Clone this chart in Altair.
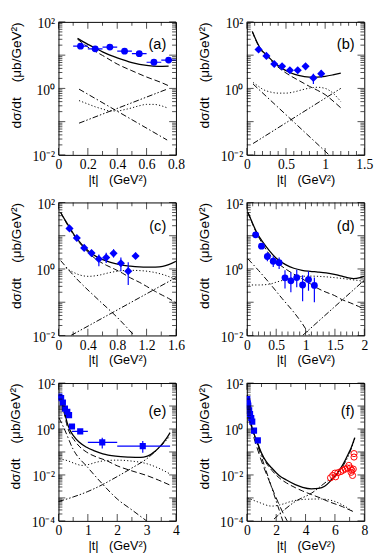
import altair as alt
import pandas as pd

BLUE = "#0000ff"
RED = "#ff0000"

# ---------------- panel (a) ----------------
a_x = [0.15, 0.25, 0.35, 0.45, 0.55, 0.65, 0.75]
a_y = [18.6, 15.5, 17.5, 13.2, 11.1, 6.1, 7.1]
a_ylo = [16.8, 14.0, 15.8, 12.0, 10.0, 5.5, 6.4]
a_yhi = [20.5, 17.0, 19.3, 14.5, 12.2, 6.7, 7.8]
a_xlo = [0.10, 0.20, 0.30, 0.40, 0.50, 0.60, 0.70]
a_xhi = [0.20, 0.30, 0.40, 0.50, 0.60, 0.70, 0.80]
a_solid_x = [0.13, 0.17, 0.2, 0.25, 0.3, 0.35, 0.4, 0.5, 0.6, 0.68, 0.75]
a_solid_y = [32, 25, 21, 16.5, 12.5, 10, 8.3, 6.0, 4.9, 4.6, 4.7]
a_dash_x = [0.13, 0.17, 0.2, 0.25, 0.3, 0.4, 0.5, 0.6, 0.7, 0.75]
a_dash_y = [30, 22, 17.5, 13, 9.8, 5.4, 3.4, 2.2, 1.5, 1.2]
a_dot_x = [0.14, 0.2, 0.25, 0.3, 0.35, 0.4, 0.45, 0.5, 0.55, 0.6, 0.65, 0.7, 0.74]
a_dot_y = [0.43, 0.34, 0.28, 0.24, 0.21, 0.21, 0.23, 0.26, 0.3, 0.33, 0.33, 0.3, 0.26]
a_dd_x = [0.14, 0.74]
a_dd_y = [0.95, 0.028]
a_ddd_x = [0.14, 0.74]
a_ddd_y = [0.09, 0.95]

# ---------------- panel (b) ----------------
b_x = [0.15, 0.25, 0.35, 0.45, 0.55, 0.65, 0.75, 0.85, 0.95]
b_y = [14.8, 9.5, 5.4, 4.6, 3.5, 3.5, 4.6, 2.07, 2.77]
b_ylo = [13.0, 8.3, 4.7, 4.0, 3.0, 3.0, 3.9, 1.35, 2.2]
b_yhi = [16.8, 10.8, 6.2, 5.3, 4.0, 4.0, 5.4, 2.77, 3.5]
b_solid_x = [0.07, 0.1, 0.14, 0.18, 0.25, 0.35, 0.45, 0.55, 0.66, 0.8, 0.9, 1.0, 1.1, 1.2]
b_solid_y = [51, 35, 22, 15, 10.2, 6.0, 4.0, 3.0, 2.45, 2.2, 2.2, 2.3, 2.55, 2.9]
b_dash_x = [0.07, 0.1, 0.14, 0.18, 0.25, 0.35, 0.45, 0.55, 0.66, 0.8, 0.9, 1.0, 1.1, 1.2]
b_dash_y = [51, 34, 21, 14.5, 9.6, 5.5, 3.5, 2.45, 1.75, 1.15, 0.88, 0.65, 0.42, 0.26]
b_dot_x = [0.08, 0.15, 0.2, 0.3, 0.4, 0.5, 0.6, 0.7, 0.8, 0.9, 1.0, 1.1, 1.2]
b_dot_y = [1.5, 1.15, 0.95, 0.78, 0.72, 0.72, 0.78, 0.9, 1.02, 1.08, 1.0, 0.72, 0.4]
b_dd_x = [0.08, 1.05]
b_dd_y = [1.35, 0.01]
b_ddd_x = [0.08, 1.2]
b_ddd_y = [0.022, 1.0]

# ---------------- panel (c) ----------------
c_x = [0.15, 0.25, 0.35, 0.45, 0.55, 0.65, 0.75, 0.85, 0.95, 1.05]
c_y = [16.6, 8.5, 4.3, 3.0, 2.0, 2.2, 2.95, 1.48, 0.86, 2.45]
c_ylo = [14.5, 7.4, 3.7, 2.4, 1.2, 1.5, 2.2, 0.85, 0.33, 2.0]
c_yhi = [19.0, 9.8, 5.0, 3.8, 2.7, 3.1, 3.9, 2.2, 1.58, 3.1]
c_solid_x = [0.03, 0.08, 0.145, 0.22, 0.32, 0.42, 0.54, 0.65, 0.76, 0.87, 0.98, 1.1, 1.2, 1.32, 1.42, 1.5, 1.6]
c_solid_y = [50, 32, 18.7, 10, 5.4, 3.3, 2.2, 1.75, 1.48, 1.3, 1.21, 1.15, 1.13, 1.14, 1.2, 1.35, 1.7]
c_dash_x = [0.03, 0.08, 0.145, 0.22, 0.32, 0.42, 0.54, 0.65, 0.76, 0.87, 0.98, 1.1, 1.2, 1.32, 1.42, 1.5, 1.6]
c_dash_y = [50, 31, 17.5, 9.5, 5.0, 2.9, 1.78, 1.3, 1.0, 0.75, 0.54, 0.4, 0.3, 0.21, 0.16, 0.13, 0.095]
c_dot_x = [0.1, 0.2, 0.3, 0.41, 0.55, 0.7, 0.85, 0.98, 1.15, 1.29, 1.45, 1.6]
c_dot_y = [1.08, 0.8, 0.65, 0.6, 0.65, 0.78, 0.88, 0.91, 0.88, 0.8, 0.65, 0.48]
c_dd_x = [0.03, 0.25, 0.54, 0.8, 1.03]
c_dd_y = [1.78, 0.5, 0.12, 0.035, 0.01]
c_ddd_x = [0.17, 1.6]
c_ddd_y = [0.01, 0.55]

# ---------------- panel (d) ----------------
d_x = [0.15, 0.25, 0.35, 0.45, 0.55, 0.65, 0.75, 0.85, 0.95, 1.05, 1.15]
d_y = [10.6, 4.85, 2.37, 1.7, 1.55, 0.54, 0.44, 0.55, 0.33, 0.48, 0.32]
d_ylo = [9.2, 4.1, 1.7, 1.15, 1.0, 0.26, 0.2, 0.28, 0.107, 0.22, 0.1]
d_yhi = [12.2, 5.7, 3.2, 2.4, 2.2, 0.91, 0.8, 0.95, 0.65, 0.85, 0.55]
d_solid_x = [0.02, 0.08, 0.165, 0.27, 0.386, 0.5, 0.66, 0.8, 0.94, 1.08, 1.21, 1.35, 1.49, 1.6, 1.71, 1.82, 1.93, 2.0]
d_solid_y = [50, 28, 13, 6.5, 3.5, 2.1, 1.35, 1.05, 0.91, 0.85, 0.81, 0.76, 0.69, 0.62, 0.55, 0.51, 0.55, 0.6]
d_dash_x = [0.02, 0.08, 0.165, 0.27, 0.386, 0.5, 0.66, 0.8, 0.94, 1.08, 1.21, 1.35, 1.49, 1.62, 1.76, 1.9, 2.0]
d_dash_y = [50, 27, 12, 5.6, 2.75, 1.65, 1.0, 0.7, 0.51, 0.36, 0.26, 0.2, 0.16, 0.12, 0.096, 0.075, 0.062]
d_dot_x = [0.03, 0.2, 0.39, 0.5, 0.66, 0.8, 0.94, 1.1, 1.21, 1.35, 1.49, 1.62, 1.76, 1.9, 2.0]
d_dot_y = [0.33, 0.33, 0.35, 0.4, 0.48, 0.55, 0.6, 0.61, 0.6, 0.58, 0.55, 0.52, 0.48, 0.45, 0.42]
d_dd_x = [0.02, 0.2, 0.4, 0.6, 0.8, 0.95, 1.07]
d_dd_y = [2.0, 0.9, 0.35, 0.13, 0.05, 0.022, 0.01]
d_ddd_x = [0.95, 2.0]
d_ddd_y = [0.01, 0.46]

# ---------------- panel (e) ----------------
e_x = [0.03, 0.09, 0.15, 0.22, 0.3, 0.36, 0.46, 0.74, 1.49, 2.87]
e_y = [26, 22, 14, 7.7, 5.6, 4.0, 1.28, 0.79, 0.26, 0.18]
e_xlo = [0.0, 0.06, 0.12, 0.19, 0.27, 0.33, 0.4, 0.46, 1.0, 2.0]
e_xhi = [0.06, 0.12, 0.18, 0.25, 0.33, 0.39, 0.52, 1.0, 2.0, 3.8]
e_ylo = [23, 19.5, 12.4, 6.8, 4.9, 3.5, 1.1, 0.68, 0.14, 0.092]
e_yhi = [29, 25, 15.8, 8.7, 6.3, 4.5, 1.48, 0.92, 0.42, 0.3]
e_solid_x = [0.03, 0.077, 0.15, 0.22, 0.3, 0.4, 0.52, 0.7, 0.96, 1.2, 1.51, 1.95, 2.4, 2.8, 3.0, 3.15, 3.3, 3.45, 3.6, 3.7, 3.8]
e_solid_y = [30, 24, 10, 4.5, 1.8, 0.85, 0.49, 0.27, 0.16, 0.115, 0.083, 0.066, 0.06, 0.058, 0.064, 0.08, 0.11, 0.17, 0.29, 0.43, 0.69]
e_dash_x = [0.03, 0.077, 0.15, 0.22, 0.3, 0.4, 0.52, 0.7, 0.96, 1.3, 1.62, 2.0, 2.5, 3.0, 3.4, 3.8]
e_dash_y = [30, 22, 8.5, 3.5, 1.28, 0.6, 0.35, 0.18, 0.098, 0.06, 0.043, 0.025, 0.015, 0.0095, 0.006, 0.0036]
e_dot_x = [0.03, 0.3, 0.6, 0.8, 1.0, 1.3, 1.6, 2.0, 2.5, 3.0, 3.4, 3.8]
e_dot_y = [0.05, 0.042, 0.03, 0.026, 0.028, 0.036, 0.042, 0.044, 0.04, 0.031, 0.02, 0.011]
e_dd_x = [0.02, 0.2, 0.5, 1.0, 1.5, 2.0, 2.5, 3.0]
e_dd_y = [3.0, 1.0, 0.13, 0.021, 0.004, 0.0009, 0.0003, 0.0001]
e_ddd_x = [0.0, 0.5, 1.0, 1.5, 2.0, 2.5, 3.0, 3.4, 3.8]
e_ddd_y = [0.0007, 0.0011, 0.0019, 0.0038, 0.0085, 0.02, 0.05, 0.14, 0.5]

# ---------------- panel (f) ----------------
f_x = [0.03, 0.07, 0.1, 0.16, 0.22, 0.3, 0.37, 0.49, 0.75]
f_y = [20, 13, 10.5, 6.5, 4.5, 3.0, 2.1, 0.85, 0.32]
f_ylo = [17, 11, 9.0, 5.5, 3.8, 2.5, 1.75, 0.7, 0.27]
f_yhi = [23, 15, 12, 7.5, 5.2, 3.5, 2.5, 1.0, 0.37]
f_red_x = [5.7, 5.85, 6.0, 6.05, 6.2, 6.4, 6.55, 6.7, 6.85, 6.95, 7.05, 7.1, 7.15, 7.2, 7.25, 7.3, 7.3]
f_red_y = [0.0075, 0.0095, 0.012, 0.0083, 0.0125, 0.014, 0.016, 0.018, 0.02, 0.026, 0.02, 0.013, 0.016, 0.0095, 0.018, 0.06, 0.085]
f_solid_x = [0.02, 0.1, 0.2, 0.35, 0.5, 0.7, 1.0, 1.3, 1.7, 2.2, 2.7, 3.3, 3.8, 4.4, 4.9, 5.3, 5.7, 6.0, 6.3, 6.6, 6.9, 7.1, 7.35]
f_solid_y = [30, 8, 3.5, 1.2, 0.6, 0.28, 0.09, 0.04, 0.02, 0.0095, 0.006, 0.0038, 0.0029, 0.0025, 0.0026, 0.0032, 0.0055, 0.0088, 0.016, 0.033, 0.08, 0.15, 0.42]
f_dash_x = [0.02, 0.1, 0.2, 0.35, 0.5, 0.7, 1.0, 1.3, 1.7, 2.2, 2.7, 3.3, 3.8, 4.4, 5.0, 5.5, 6.0, 6.5, 7.0, 7.3]
f_dash_y = [30, 7.5, 3.3, 1.1, 0.55, 0.25, 0.08, 0.035, 0.016, 0.0075, 0.0045, 0.0028, 0.002, 0.0014, 0.001, 0.00072, 0.00055, 0.00042, 0.0003, 0.00025]
f_steep_x = [0.02, 0.1, 0.2, 0.35, 0.5, 0.7, 1.0, 1.5, 2.0, 2.5, 2.75]
f_steep_y = [30, 7, 2.8, 0.9, 0.38, 0.15, 0.04, 0.006, 0.001, 0.0002, 0.0001]
f_dd_x = [0.0, 2.45]
f_dd_y = [5.0, 0.0001]
f_dot_x = [0.05, 0.8, 1.7, 2.5, 3.0, 4.0, 5.0, 6.0, 6.5, 7.0, 7.3]
f_dot_y = [0.001, 0.00065, 0.00044, 0.00055, 0.0007, 0.00087, 0.0009, 0.0007, 0.0005, 0.00032, 0.00023]
f_ddd_x = [1.85, 3.3, 4.4, 5.5, 6.0, 6.5, 7.0, 7.35]
f_ddd_y = [0.00012, 0.0007, 0.0016, 0.0055, 0.009, 0.022, 0.09, 0.38]

# ---------------- tick positions ----------------
a_xmaj = [0, 0.2, 0.4, 0.6, 0.8]
a_xmin = [0.1, 0.3, 0.5, 0.7]
b_xmaj = [0, 0.5, 1.0, 1.5]
b_xmin = [0.1, 0.2, 0.3, 0.4, 0.6, 0.7, 0.8, 0.9, 1.1, 1.2, 1.3, 1.4]
c_xmaj = [0, 0.4, 0.8, 1.2, 1.6]
c_xmin = [0.2, 0.6, 1.0, 1.4]
d_xmaj = [0, 0.5, 1.0, 1.5, 2.0]
d_xmin = [0.1, 0.2, 0.3, 0.4, 0.6, 0.7, 0.8, 0.9, 1.1, 1.2, 1.3, 1.4, 1.6, 1.7, 1.8, 1.9]
e_xmaj = [0, 1, 2, 3, 4]
e_xmin = [0.5, 1.5, 2.5, 3.5]
f_xmaj = [0, 2, 4, 6, 8]
f_xmin = [1, 3, 5, 7]

W = 121
MAJ = 7
MIN = 4

DASH = [6, 3]
DOT = [1.2, 2.2]
DASHDOT = [6, 2.5, 1.5, 2.5]
DASHDOTDOT = [6, 2, 1.5, 2, 1.5, 2]

NB = "\u00a0"
XTITLE = "|t|" + NB * 3 + "(GeV\u00b2)"
YTITLE = "d\u03c3/dt" + NB * 4 + "(\u03bcb/GeV\u00b2)"
YLABEL = ("datum.value > 50 ? '10\u00b2' : datum.value > 0.5 ? '10\u2070' : "
          "datum.value > 0.005 ? '10\u207b\u00b2' : '10\u207b\u2074'")


def panel(lab, xdom, xmaj, xmin, ylo_exp, yhi_exp, H, curves, markers, label_y):
    xs = alt.Scale(domain=xdom, nice=False, zero=False)
    ys = alt.Scale(type="log", domain=[10.0 ** ylo_exp, 10.0 ** yhi_exp], nice=False)
    ylabvals = [10.0 ** k for k in range(ylo_exp, yhi_exp + 1, 2)]
    xax = alt.Axis(values=xmaj, format="~g", title=XTITLE,
                   labelPadding=3, titlePadding=2)
    yax = alt.Axis(values=ylabvals, labelExpr=YLABEL, title=YTITLE, titleFontSize=14,
                   titleAnchor="end", labelPadding=4, titlePadding=9, labelOffset=2)

    def X(f="x"):
        return alt.X(f + ":Q", scale=xs, axis=xax)

    def Y(f="y"):
        return alt.Y(f + ":Q", scale=ys, axis=yax)

    layers = []
    for cx, cy, dash, sw in curves:
        df = pd.DataFrame({"x": cx, "y": cy})
        mk = dict(clip=True, color="black", strokeWidth=sw, interpolate="monotone")
        if dash is not None:
            mk["strokeDash"] = dash
        layers.append(alt.Chart(df).mark_line(**mk).encode(x=X(), y=Y()))

    for m in markers:
        df = pd.DataFrame({"x": m["x"], "y": m["y"]})
        if "ylo" in m:
            df["ylo"] = m["ylo"]
            df["yhi"] = m["yhi"]
            layers.append(alt.Chart(df).mark_rule(color=m["color"], strokeWidth=1.2, clip=True)
                          .encode(x=X(), y=Y("ylo"), y2=alt.Y2("yhi")))
        if "xlo" in m:
            df["xlo"] = m["xlo"]
            df["xhi"] = m["xhi"]
            layers.append(alt.Chart(df).mark_rule(color=m["color"], strokeWidth=1.2, clip=True)
                          .encode(x=X("xlo"), x2=alt.X2("xhi"), y=Y()))
        pt = alt.Chart(df).mark_point(shape=m["shape"], size=m["size"], filled=m["filled"],
                                      color=m["color"], opacity=1, strokeWidth=1, clip=True)
        layers.append(pt.encode(x=X(), y=Y()))

    # inward ticks on all four sides (major and minor), kept inside the frame
    ymaj = [10.0 ** k for k in range(ylo_exp, yhi_exp + 1)]
    ymin = [mm * 10.0 ** k for k in range(ylo_exp, yhi_exp) for mm in range(2, 10)]
    for vals, L in ((ymaj, MAJ), (ymin, MIN)):
        df = pd.DataFrame({"y": vals})
        for xpos in (L / 2, W - L / 2):
            layers.append(alt.Chart(df).mark_tick(orient="horizontal", size=L, color="black", thickness=1)
                          .encode(y=Y(), x=alt.value(xpos)))
    for vals, L in ((xmaj, MAJ), (xmin, MIN)):
        df = pd.DataFrame({"x": vals})
        for ypos in (L / 2, H - L / 2):
            layers.append(alt.Chart(df).mark_tick(orient="vertical", size=L, color="black", thickness=1)
                          .encode(x=X(), y=alt.value(ypos)))

    layers.append(alt.Chart(pd.DataFrame({"t": [lab]}))
                  .mark_text(align="right", baseline="middle", font="Liberation Sans", fontSize=15, color="black")
                  .encode(x=alt.value(111), y=alt.value(label_y), text="t:N"))
    return alt.layer(*layers).properties(width=W, height=H)


def std_curves(s, d, dot, dd, ddd):
    return [
        (s[0], s[1], None, 1.3),
        (d[0], d[1], DASH, 1.0),
        (dot[0], dot[1], DOT, 1.0),
        (dd[0], dd[1], DASHDOT, 1.0),
        (ddd[0], ddd[1], DASHDOTDOT, 1.0),
    ]


pa = panel("(a)", [0, 0.8], a_xmaj, a_xmin, -2, 2, 137,
           std_curves((a_solid_x, a_solid_y), (a_dash_x, a_dash_y), (a_dot_x, a_dot_y),
                      (a_dd_x, a_dd_y), (a_ddd_x, a_ddd_y)),
           [dict(x=a_x, y=a_y, ylo=a_ylo, yhi=a_yhi, xlo=a_xlo, xhi=a_xhi,
                 shape="circle", size=50, filled=True, color=BLUE)], 23)
pb = panel("(b)", [0, 1.5], b_xmaj, b_xmin, -2, 2, 137,
           std_curves((b_solid_x, b_solid_y), (b_dash_x, b_dash_y), (b_dot_x, b_dot_y),
                      (b_dd_x, b_dd_y), (b_ddd_x, b_ddd_y)),
           [dict(x=b_x, y=b_y, ylo=b_ylo, yhi=b_yhi,
                 shape="diamond", size=70, filled=True, color=BLUE)], 23)
pc = panel("(c)", [0, 1.6], c_xmaj, c_xmin, -2, 2, 137,
           std_curves((c_solid_x, c_solid_y), (c_dash_x, c_dash_y), (c_dot_x, c_dot_y),
                      (c_dd_x, c_dd_y), (c_ddd_x, c_ddd_y)),
           [dict(x=c_x, y=c_y, ylo=c_ylo, yhi=c_yhi,
                 shape="diamond", size=70, filled=True, color=BLUE)], 24)
pd_ = panel("(d)", [0, 2.0], d_xmaj, d_xmin, -2, 2, 137,
            std_curves((d_solid_x, d_solid_y), (d_dash_x, d_dash_y), (d_dot_x, d_dot_y),
                       (d_dd_x, d_dd_y), (d_ddd_x, d_ddd_y)),
            [dict(x=d_x, y=d_y, ylo=d_ylo, yhi=d_yhi,
                  shape="circle", size=50, filled=True, color=BLUE)], 24)
pe = panel("(e)", [0, 4.0], e_xmaj, e_xmin, -4, 2, 142,
           std_curves((e_solid_x, e_solid_y), (e_dash_x, e_dash_y), (e_dot_x, e_dot_y),
                      (e_dd_x, e_dd_y), (e_ddd_x, e_ddd_y)),
           [dict(x=e_x, y=e_y, ylo=e_ylo, yhi=e_yhi, xlo=e_xlo, xhi=e_xhi,
                 shape="square", size=40, filled=True, color=BLUE)], 29)
f_curves = std_curves((f_solid_x, f_solid_y), (f_dash_x, f_dash_y), (f_dot_x, f_dot_y),
                      (f_dd_x, f_dd_y), (f_ddd_x, f_ddd_y))
f_curves.append((f_steep_x, f_steep_y, [7, 4], 1.0))
pf = panel("(f)", [0, 8.0], f_xmaj, f_xmin, -4, 2, 142, f_curves,
           [dict(x=f_x, y=f_y, ylo=f_ylo, yhi=f_yhi,
                 shape="square", size=40, filled=True, color=BLUE),
            dict(x=f_red_x, y=f_red_y, shape="circle", size=40, filled=False, color=RED)], 29)

chart = alt.concat(
    pa, pb, pc, pd_, pe, pf, columns=2,
    spacing={"row": 10, "column": 11},
).properties(padding=0).configure_view(stroke="black", strokeWidth=1).configure_axis(
    labelFont="Liberation Serif", labelFontSize=14, labelColor="black",
    titleFont="Liberation Sans", titleFontSize=13, titleFontWeight="normal", titleColor="black",
    ticks=False, domain=False, grid=False, labelFlush=False, labelOverlap=False,
)

chart.save("out.html", embed_options={"renderer": "svg", "actions": False})
